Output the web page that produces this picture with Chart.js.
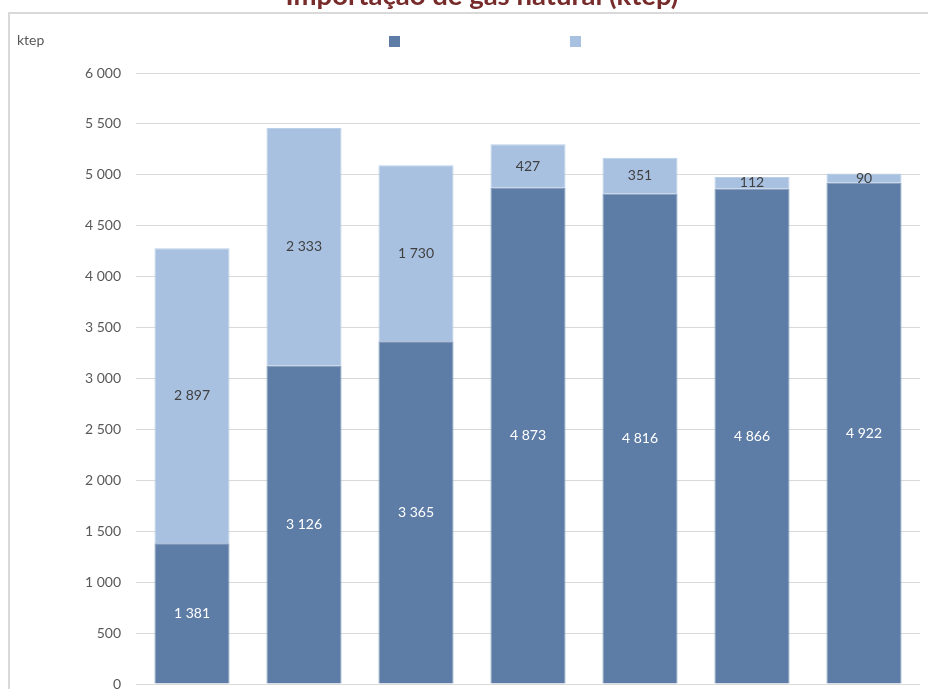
<!DOCTYPE html>
<html>
<head>
<meta charset="utf-8">
<script src="https://cdn.jsdelivr.net/npm/chart.js@4.4.1/dist/chart.umd.min.js"></script>
<style>
  html, body { margin: 0; padding: 0; background: #ffffff; overflow: hidden; }
  #wrap { position: absolute; left: 0; top: 0; width: 928px; height: 689px; }
</style>
</head>
<body>
<div id="wrap"><canvas id="c" width="928" height="689"></canvas></div>
<script>
// ---- data ----
const categories = ['1', '2', '3', '4', '5', '6', '7'];
const seriesDark = [1381, 3126, 3365, 4873, 4816, 4866, 4922];
const seriesLight = [2897, 2333, 1730, 427, 351, 112, 90];
const yTicks = [0, 500, 1000, 1500, 2000, 2500, 3000, 3500, 4000, 4500, 5000, 5500, 6000];
const titleText = 'Importação de gás natural (ktep)';
const unitText = 'ktep';

const DARK = '#5E7DA6';
const LIGHT = '#A9C1E1';
const FONT = 'Lato, "Open Sans", sans-serif';

function fmt(v) {
  return String(v).replace(/\B(?=(\d{3})+(?!\d))/g, ' ');
}

const decorPlugin = {
  id: 'decor',
  beforeDraw(chart) {
    const ctx = chart.ctx;
    ctx.save();
    // frame lines
    ctx.strokeStyle = '#D9D9D9';
    ctx.lineWidth = 2;
    ctx.beginPath();
    ctx.moveTo(9, 13);
    ctx.lineTo(928, 13);
    ctx.moveTo(9, 12);
    ctx.lineTo(9, 689);
    ctx.stroke();
    // title (cropped at top)
    ctx.fillStyle = '#772B2B';
    ctx.font = 'bold 27.5px ' + FONT;
    ctx.textAlign = 'center';
    ctx.textBaseline = 'alphabetic';
    ctx.fillText(titleText, 482, 5);
    // unit label
    ctx.fillStyle = '#595959';
    ctx.font = '14px ' + FONT;
    ctx.textAlign = 'left';
    ctx.textBaseline = 'middle';
    ctx.fillText(unitText, 17, 40);
    // legend squares (text not visible in reference)
    ctx.fillStyle = DARK;
    ctx.fillRect(389, 36, 11, 11);
    ctx.fillStyle = LIGHT;
    ctx.fillRect(570, 36, 11, 11);
    ctx.restore();
  },
  afterDatasetsDraw(chart) {
    const ctx = chart.ctx;
    ctx.save();
    ctx.font = '14px ' + FONT;
    ctx.textAlign = 'center';
    ctx.textBaseline = 'middle';
    chart.data.datasets.forEach((ds, di) => {
      const meta = chart.getDatasetMeta(di);
      ctx.fillStyle = di === 0 ? '#FFFFFF' : '#404040';
      meta.data.forEach((el, i) => {
        const p = el.getProps(['x', 'y', 'base'], true);
        ctx.fillText(fmt(ds.data[i]), p.x, (p.y + p.base) / 2);
      });
    });
    ctx.restore();
  }
};

new Chart(document.getElementById('c'), {
  type: 'bar',
  data: {
    labels: categories,
    datasets: [
      { label: 'dark', data: seriesDark, backgroundColor: DARK, borderColor: '#7893B8', borderWidth: 1 },
      { label: 'light', data: seriesLight, backgroundColor: LIGHT, borderColor: '#BCCFE8', borderWidth: 1 }
    ]
  },
  options: {
    responsive: false,
    animation: false,
    devicePixelRatio: 1,
    datasets: { bar: { categoryPercentage: 1, barPercentage: 0.67 } },
    layout: { padding: { left: 0, right: 8, top: 73, bottom: 5 } },
    plugins: { legend: { display: false }, title: { display: false }, tooltip: { enabled: false } },
    scales: {
      x: {
        stacked: true,
        display: false,
        grid: { display: false }
      },
      y: {
        stacked: true,
        min: 0,
        max: 6000,
        afterFit(scale) {
          scale.width = 136;
          scale.paddingTop = 0;
          scale.paddingBottom = 0;
        },
        afterBuildTicks(scale) { scale.ticks = yTicks.map(v => ({ value: v })); },
        border: { display: false },
        grid: { color: '#D9D9D9', lineWidth: 1, borderDash: [3, 2], drawTicks: false, tickLength: 0 },
        ticks: {
          padding: 15,
          color: '#595959',
          font: { family: FONT, size: 14 },
          callback: v => fmt(v)
        }
      }
    }
  },
  plugins: [decorPlugin]
});
</script>
</body>
</html>
